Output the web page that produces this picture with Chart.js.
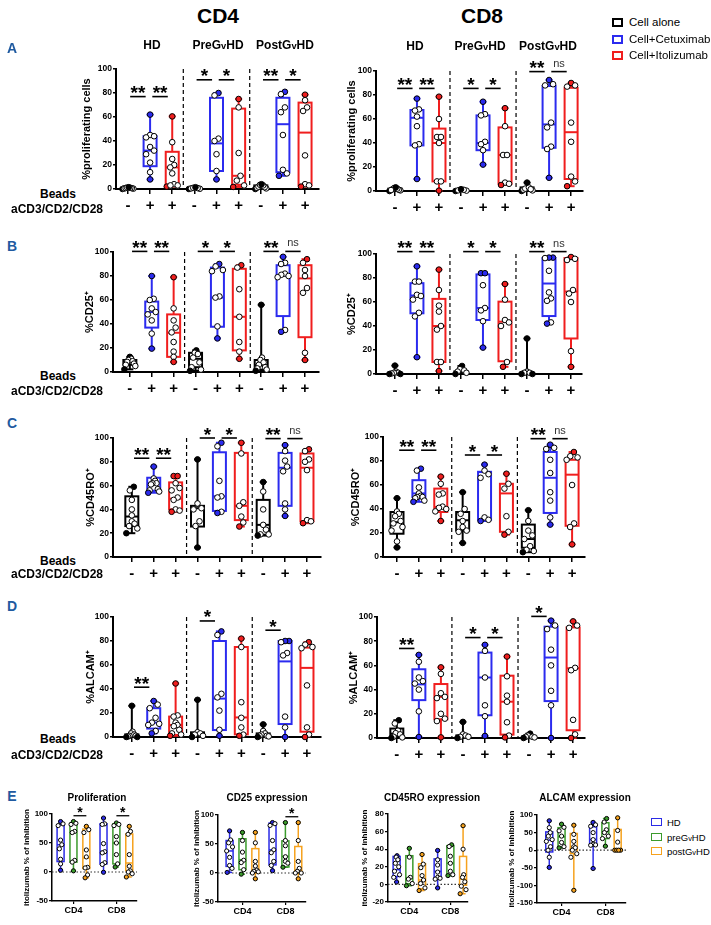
<!DOCTYPE html>
<html>
<head>
<meta charset="utf-8">
<script src="https://cdn.jsdelivr.net/npm/chart.js@4.4.1/dist/chart.umd.min.js"></script>
<style>
  body { margin: 0; width: 711px; height: 925px; position: relative; overflow: hidden; background: #fff;
         font-family: "Liberation Sans", Arial, Helvetica, sans-serif; color: #000; }
  canvas { position: absolute; }
  .t { position: absolute; transform: translate(-50%, -50%); white-space: nowrap; font-weight: bold; }
  .v { font-size: 0.78em; }
  .lg { position: absolute; transform: translateY(-50%); white-space: nowrap; }
  .sw { position: absolute; box-sizing: border-box; }
</style>
</head>
<body>
<script>
// ---- labels ----
const groupLabels = ['HD', 'PreG<span class="v">v</span>HD', 'PostG<span class="v">v</span>HD'];
const condLabels = ['Cell alone', 'Cell+Cetuximab', 'Cell+Itolizumab'];
const beadTicks = ['-', '+', '+', '-', '+', '+', '-', '+', '+'];
const cellLabels = ['CD4', 'CD8'];
const inhibLabels = ['HD', 'preG<span class="v">v</span>HD', 'postG<span class="v">v</span>HD'];

// ---- box stats: [min, q1, median, q3, max] per box; points per box ----
const prolifCD4Box = [[0, 0.3, 0.7, 1, 1.5], [8, 19, 32, 44, 62], [2, 3.5, 18, 31, 60.5],
  [0, 0.2, 0.5, 1, 1.5], [8, 15, 38, 76, 80], [1.7, 3.5, 11, 67, 75],
  [0, 0.5, 1.5, 3, 4], [11, 14, 54, 76, 81], [2, 3, 47, 72, 78.6]];
const prolifCD4Pts = [[0, 0.3, 0.5, 0.7, 0.8, 1, 1.2, 1.5], [62, 45, 44, 43, 35, 32, 29, 22, 14, 8],
  [60.5, 39, 25, 20, 18, 13, 4, 3, 2, 3], [0, 0.2, 0.5, 0.8, 1, 1.5], [80, 78, 42, 40, 29, 15, 8],
  [75, 68, 30, 11, 7, 3, 1.7], [0, 0.5, 1, 1.5, 2, 3, 3.5, 4], [81, 79, 68, 64, 45, 16, 13, 11],
  [78.6, 74, 68, 65, 28, 4, 3, 2]];
const prolifCD4Sig = [[1, 2, 77, '**'], [2, 3, 77, '**'], [4, 5, 91, '*'], [5, 6, 91, '*'], [7, 8, 91, '**'], [8, 9, 91, '*']];

const prolifCD8Box = [[0, 0.5, 1, 2, 3], [10, 38, 61, 67.5, 77], [0.3, 8, 40, 52, 78.6],
  [0, 0.2, 0.5, 1, 1.5], [22, 34, 40, 63, 74.4], [5, 6, 30, 53, 69],
  [0, 0.5, 1.5, 3, 7], [11, 36, 55.5, 87.5, 92.5], [4, 10, 49, 86, 90]];
const prolifCD8Pts = [[0, 0.5, 1, 1.5, 2, 2.5, 3, 0.8], [77, 68, 67, 62, 54, 39, 38, 10],
  [78.6, 60, 45, 45, 40, 8, 8, 0.3], [0, 0.3, 0.6, 1, 1.5], [74.4, 64, 63, 41, 39, 34, 22],
  [69, 54, 30, 30, 7, 6, 5], [0, 0.5, 1, 2, 3, 7, 1.5], [92.5, 89, 88, 57, 53, 37, 35, 11],
  [90, 88, 87, 57, 41, 12, 8, 4]];
const prolifCD8Sig = [[1, 2, 85.5, '**'], [2, 3, 85.5, '**'], [4, 5, 85.5, '*'], [5, 6, 85.5, '*'], [7, 8, 99.5, '**'], [8, 9, 99.5, 'ns']];

const cd25CD4Box = [[2.2, 6, 8.4, 10, 12.6], [19.5, 37, 50, 58.7, 80], [8.4, 12.6, 32.7, 48, 79],
  [1, 4, 11, 16, 18], [28, 37.7, 62, 87, 90], [11, 18, 46, 86, 89],
  [1, 2, 5.6, 10, 56], [33.5, 46.6, 80.4, 89, 96], [10, 29, 78, 89, 94]];
const cd25CD4Pts = [[12.6, 11, 10, 9, 8.4, 7, 6, 5, 2.2], [80, 61, 60, 53, 50, 48, 43, 32, 19.5],
  [79, 53, 43, 37, 33, 25, 17, 12.6, 8.4], [18, 16, 15, 12, 8, 4, 2, 1], [90, 88, 85, 84, 63, 62, 38, 28],
  [89, 87, 69, 46, 25, 17, 11], [56, 12, 10, 8, 6, 4, 3, 2, 1], [96, 91, 90, 82, 81, 80, 79, 35, 33.5],
  [94, 91, 85, 80, 70, 66, 16, 10]];
const cd25CD4Sig = [[1, 2, 100.5, '**'], [2, 3, 100.5, '**'], [4, 5, 100.5, '*'], [5, 6, 100.5, '*'], [7, 8, 100.5, '**'], [8, 9, 100.5, 'ns']];

const cd25CD8Box = [[0, 0, 0.5, 1, 7], [14, 50.6, 65.4, 75.7, 89.7], [2.5, 10, 40, 62.6, 87],
  [0, 0.3, 1.4, 2.2, 6.7], [22, 45, 55, 83, 84], [6, 10.6, 43.6, 60.3, 75],
  [0, 0, 0.5, 1, 29.6], [42, 48.3, 75.4, 96.6, 97], [6, 29.6, 68.7, 96.6, 97.5]];
const cd25CD8Pts = [[7, 2, 1, 1, 0.5, 0, 0], [89.7, 77, 77, 66, 65, 62, 51, 48, 14],
  [87, 70, 57, 52, 40, 37, 10, 10, 2.5], [6.7, 4, 3, 2, 1, 0], [84, 84, 74, 55, 53, 44, 22],
  [75, 62, 45, 43, 40, 10, 6], [29.6, 2, 1, 1, 0, 0], [97, 97, 96.6, 86, 68, 63, 61, 43, 42],
  [97.5, 96, 95, 70, 67, 60, 19, 6]];
const cd25CD8Sig = [[1, 2, 102, '**'], [2, 3, 102, '**'], [4, 5, 102, '*'], [5, 6, 102, '*'], [7, 8, 102, '**'], [8, 9, 102, 'ns']];

const cd45CD4Box = [[20, 26, 34, 51, 59], [54, 55.7, 62, 66.6, 76], [38, 40, 49, 62.7, 68],
  [8, 25.6, 41, 43, 82], [37, 38.7, 51, 88, 96], [25.6, 31, 43, 87.5, 96],
  [18, 18.7, 27, 48, 63], [34.5, 43, 75, 87.5, 94], [28.4, 30, 75, 87, 90.5]];
const cd45CD4Pts = [[59, 56, 48, 40, 35, 30, 28, 26, 24, 20], [76, 66, 64, 62, 62, 61, 57, 56, 55, 54],
  [68, 68, 62, 58, 56, 50, 48, 40, 39, 38], [82, 45, 41, 40, 30, 26, 8], [96, 93, 64, 51, 50, 38, 37],
  [96, 87, 46, 43, 34, 29, 25.6], [63, 55, 40, 27, 23, 19, 19, 18], [94, 89, 81, 76, 72, 45, 40, 34.5],
  [90.5, 89, 82, 80, 73, 31, 30, 28.4]];
const cd45CD4Sig = [[1, 2, 83, '**'], [2, 3, 83, '**'], [4, 5, 100, '*'], [5, 6, 100, '*'], [7, 8, 99.5, '**'], [8, 9, 99.5, 'ns']];

const cd45CD8Box = [[8, 19.4, 29, 37.5, 49], [46, 50, 53, 64, 73.6], [30, 37.5, 41.7, 57, 67],
  [11.7, 22, 30.6, 37.5, 54], [30, 31, 70.8, 71, 77], [18.6, 21, 53, 61, 69.4],
  [4, 7.7, 15, 27, 39], [27, 36.7, 66, 87.5, 93.6], [10.5, 26, 68.6, 81, 87.5]];
const cd45CD8Pts = [[49, 38, 36, 34, 30, 28, 25, 22, 13, 8], [73.6, 72, 58, 53, 51, 50, 50, 49, 47, 46],
  [67, 61, 53, 52, 42, 41, 40, 38, 30], [54, 40, 36, 30, 25, 22, 21, 11.7], [77, 72, 69, 66, 33, 31, 30],
  [69.4, 61, 57, 34, 21, 18.6], [39, 30, 22, 18, 15, 9, 6, 5, 4], [93.6, 91, 90, 81, 70, 54, 47, 33, 27],
  [87.5, 84, 83, 81, 60, 28, 25, 10.5]];
const cd45CD8Sig = [[1, 2, 89, '**'], [2, 3, 89, '**'], [4, 5, 85, '*'], [5, 6, 85, '*'], [7, 8, 98.6, '**'], [8, 9, 98.6, 'ns']];

const alcamCD4Box = [[0, 0.3, 1.1, 2.2, 26], [3, 7, 12, 24, 30], [1, 1.7, 10, 17, 44.6],
  [0, 0.8, 2.2, 3.9, 31], [1, 5.8, 32, 80, 88], [1, 2.2, 16.3, 75, 82],
  [0, 0.3, 1.1, 3, 10.5], [0, 10.8, 63, 80, 80], [0, 4.4, 57.6, 74.5, 79]];
const alcamCD4Pts = [[26, 4.4, 3, 2, 1, 1, 0.5, 0, 0], [30, 27, 24, 16, 12, 11, 10, 5, 3],
  [44.6, 18, 17, 12, 10, 9, 6, 3, 2, 1], [31, 4, 3, 2, 1, 0], [88, 85, 36, 33, 22, 6, 1],
  [82, 75, 29, 16, 8, 2, 1], [10.5, 5, 3, 2, 1, 1, 0.5, 0], [80, 80, 79, 70, 68, 17, 8, 0],
  [79, 77, 75, 74, 43, 8, 2, 0]];
const alcamCD4Sig = [[1, 2, 41.5, '**'], [4, 5, 96.7, '*'], [7, 8, 89, '*']];

const alcamCD8Box = [[0, 0.8, 3.6, 7.8, 14.7], [0.8, 31.3, 44.3, 56.8, 68.7], [0.5, 15.5, 34, 44.6, 58.4],
  [0, 0.5, 1.4, 2.2, 13.3], [1.7, 18.8, 50, 70.6, 77], [0.5, 2.8, 30, 51.5, 67.3],
  [0, 0.3, 0.8, 1.4, 3.6], [0, 30.5, 66.5, 92, 97], [0, 6.4, 57.6, 91.4, 96.4]];
const alcamCD8Pts = [[14.7, 12, 6, 4, 3, 1, 0.5, 0], [68.7, 63, 50, 47, 45, 40, 22, 0.8],
  [58.4, 53, 37, 34, 33, 20, 16, 14, 0.5], [13.3, 3, 2, 1, 1, 0], [77, 72, 50, 27, 18, 1.7],
  [67.3, 51, 35, 30, 13, 2, 0.5], [3.6, 2, 1, 1, 0.5, 0], [97, 93, 90, 73, 60, 39, 27, 0],
  [96.4, 93, 91, 58, 56, 15, 3, 0]];
const alcamCD8Sig = [[1, 2, 74, '**'], [4, 5, 83, '*'], [5, 6, 83, '*'], [7, 8, 100.5, '*']];

// panel E: order CD4 HD/pre/post, CD8 HD/pre/post
const prolifInhBox = [[3, 18, 47, 81.6, 87], [2, 17, 69, 84, 87], [-10, 6, 24, 74, 78.7],
  [-0.5, 14, 35.6, 83, 93], [8.6, 14, 50, 83, 84.5], [-8.6, 2.3, 15.5, 65.5, 78.7]];
const prolifInhPts = [[87, 83, 80, 55, 47, 40, 22, 14, 3], [87, 84, 82, 70, 68, 20, 17, 2],
  [78.7, 73, 68, 38, 26, 8, 7, -5, -10], [93, 83, 82, 49, 35, 33, 16, 13, -0.5],
  [84.5, 82, 80, 61, 50, 30, 14, 8.6], [78.7, 70, 65, 30, 10, 2, 0, -3, -8.6]];
const prolifInhSig = [[2, 3, 97, '*'], [5, 6, 97, '*']];

const cd25InhBox = [[1, 11.4, 38, 56, 72.6], [-2, 5.7, 23, 59, 70], [-10, 0, 4.6, 42, 70],
  [4, 14, 40, 86, 87], [10, 10.3, 28.6, 55.4, 87], [-10, 0, 3, 45.7, 87]];
const cd25InhPts = [[72.6, 57, 52, 45, 38, 27, 13, 8, 1], [70, 56, 36, 22, 18, 5.7, -2],
  [70, 52, 20, 12, 5, 3, 2, 0, -10], [87, 85, 82, 56, 40, 35, 20, 13, 4],
  [87, 56, 47, 28, 20, 17, 10], [87, 56, 20, 8, 3, 0, 0, -10]];
const cd25InhSig = [[5, 6, 97, '*']];

const cd45InhBox = [[2.7, 9, 16.7, 31.8, 32.6], [-1.5, 0.8, 7, 32.6, 41], [-7, -5, 5, 23.5, 34],
  [-4, 7, 14.8, 29, 38.6], [10, 10, 24, 44, 45], [-10.6, -1, 6, 31.8, 66.7]];
const cd45InhPts = [[32.6, 31, 28, 24, 20, 15, 11, 8, 2.7], [41, 31, 8, 6, 1, -1.5],
  [34, 23, 19, 10, 5, 1, -4, -7], [38.6, 28, 22, 14, 8, 7, 6, -4],
  [45, 43, 32, 24, 15, 11, 10], [66.7, 40, 11, 8, 3, -2, -6, -10.6]];

const alcamInhBox = [[-49, -5, 28.5, 52, 83.6], [6.6, 9.5, 38, 64, 74], [-114, -9.5, 9.5, 47.5, 71],
  [-52, 14, 30.4, 66.5, 79], [11.4, 33, 52, 78, 90], [0, 0, 0, 59, 92]];
const alcamInhPts = [[83.6, 64, 50, 40, 30, 25, 10, 0, -20, -49], [74, 65, 55, 40, 22, 10, 6.6],
  [71, 45, 25, 10, 7, 0, -10, -20, -114], [79, 72, 68, 50, 30, 17, 15, 14, -52],
  [90, 80, 58, 50, 40, 33, 11.4], [92, 56, 23, 0, 0, 0, 0]];

// ---- styling ----
const FONT = '"Liberation Sans", Arial, Helvetica, sans-serif';
const condColors = ['#000000', '#2b2bef', '#f01e1e'];
const inhibColors = ['#2b2be6', '#3b9b2c', '#f6a21d'];
Chart.defaults.font.family = FONT;
Chart.defaults.color = '#000';

// horizontal spread for points that sit close together (zigzag left/right)
function spread(vals, thr, step, maxW) {
  const order = vals.map((v, i) => i).sort((a, b) => vals[a] - vals[b]);
  const off = vals.map(() => 0);
  let run = [];
  const flush = () => {
    const n = run.length;
    const s = n > 1 ? Math.min(step, maxW / (n - 1)) : 0;
    run.forEach((idx, k) => {
      const slot = k % 2 === 0 ? k / 2 : n - 1 - (k - 1) / 2;
      off[idx] = (slot - (n - 1) / 2) * s;
    });
    run = [];
  };
  order.forEach(i => {
    if (run.length && vals[i] - vals[run[run.length - 1]] > thr) flush();
    run.push(i);
  });
  flush();
  return off;
}

function boxLayer(cfg) {
  const line = (ctx, x1, y1, x2, y2) => { ctx.beginPath(); ctx.moveTo(x1, y1); ctx.lineTo(x2, y2); ctx.stroke(); };
  return {
    id: 'boxLayer',
    beforeDatasetsDraw(chart) {
      const { ctx, chartArea: a, scales: { x, y } } = chart;
      ctx.save();
      ctx.strokeStyle = '#000';
      ctx.lineWidth = 1.2;
      ctx.setLineDash([4, 3]);
      cfg.separators.forEach(v => { const px = x.getPixelForValue(v); line(ctx, px, a.top, px, a.bottom); });
      if (cfg.zeroLine) {
        ctx.setLineDash([1.5, 2]);
        ctx.strokeStyle = '#333';
        const py = y.getPixelForValue(0);
        line(ctx, a.left, py, a.right, py);
      }
      ctx.setLineDash([]);
      cfg.stats.forEach((s, i) => {
        const cx = x.getPixelForValue(cfg.xs[i]);
        const [mn, q1, md, q3, mx] = s.map(v => y.getPixelForValue(v));
        ctx.strokeStyle = cfg.colors[i];
        ctx.lineWidth = cfg.lw;
        line(ctx, cx, mx, cx, q3);
        line(ctx, cx, q1, cx, mn);
        line(ctx, cx - cfg.cap, mx, cx + cfg.cap, mx);
        line(ctx, cx - cfg.cap, mn, cx + cfg.cap, mn);
        ctx.strokeRect(cx - cfg.bw / 2, q3, cfg.bw, q1 - q3);
        line(ctx, cx - cfg.bw / 2, md, cx + cfg.bw / 2, md);
      });
      ctx.restore();
    },
    afterDatasetsDraw(chart) {
      const { ctx, scales: { x, y } } = chart;
      ctx.save();
      cfg.sig.forEach(([a, b, v, lab]) => {
        const x1 = x.getPixelForValue(cfg.xs[a - 1] + cfg.inset[0]);
        const x2 = x.getPixelForValue(cfg.xs[b - 1] - cfg.inset[1]);
        const py = y.getPixelForValue(v);
        ctx.strokeStyle = '#000';
        ctx.lineWidth = cfg.sigLw;
        line(ctx, x1, py, x2, py);
        const ns = lab === 'ns';
        ctx.font = ns ? `${cfg.nsSize}px ${FONT}` : `bold ${cfg.starSize}px ${FONT}`;
        ctx.fillStyle = ns ? '#333' : '#000';
        ctx.textAlign = 'center';
        ctx.textBaseline = 'alphabetic';
        ctx.fillText(lab, (x1 + x2) / 2, ns ? py - 5 : py + cfg.starDrop);
      });
      ctx.restore();
    }
  };
}

function makeCanvas(left, top, w, h) {
  const cv = document.createElement('canvas');
  cv.width = w; cv.height = h;
  cv.style.left = left + 'px'; cv.style.top = top + 'px';
  cv.style.width = w + 'px'; cv.style.height = h + 'px';
  document.body.appendChild(cv);
  return cv;
}

function pointSets(stats, pts, xs, colors, thr, step, maxW, r) {
  return stats.map((s, i) => {
    const vals = pts[i];
    const off = spread(vals, thr, step, maxW);
    return {
      data: vals.map((v, k) => ({ x: xs[i] + off[k], y: v })),
      pointRadius: r,
      pointBorderWidth: 1,
      pointBorderColor: '#000',
      pointBackgroundColor: vals.map(v => (v === s[0] || v === s[4]) ? colors[i] : '#fff'),
      clip: false
    };
  });
}

function mainPanel(L, stats, pts, sig, yTitle) {
  const padTop = 30, xh = 28, padR = 4;
  const w = L.r - L.l + L.yw + padR, h = L.b - L.t + padTop + xh;
  const cv = makeCanvas(L.l - L.yw, L.t - padTop, w, h);
  const xs = beadTicks.map((_, i) => i + 1);
  const colors = xs.map((_, i) => condColors[i % 3]);
  const pxX = (L.r - L.l) / (L.xmax - L.xmin), pxY = (L.b - L.t) / 100;
  new Chart(cv, {
    type: 'scatter',
    data: { datasets: pointSets(stats, pts, xs, colors, 5 / pxY, 4 / pxX, 11 / pxX, 2.8) },
    options: {
      responsive: false, animation: false, devicePixelRatio: 1, events: [],
      layout: { padding: { top: padTop, right: padR, left: 0, bottom: 0 } },
      plugins: { legend: { display: false }, tooltip: { enabled: false } },
      scales: {
        x: {
          type: 'linear', min: L.xmin, max: L.xmax,
          afterBuildTicks: s => { s.ticks = xs.map(v => ({ value: v })); },
          afterFit: s => { s.height = xh; s.paddingLeft = 0; s.paddingRight = 0; },
          ticks: { callback: v => beadTicks[v - 1], font: { size: 15, weight: 'bold' }, color: '#000', padding: 3, autoSkip: false, maxRotation: 0 },
          grid: { drawOnChartArea: false, tickLength: 5, color: '#000', lineWidth: 1.5 },
          border: { color: '#000', width: 2 }
        },
        y: {
          min: 0, max: 100,
          afterFit: s => { s.width = L.yw; s.paddingTop = 0; s.paddingBottom = 0; },
          ticks: { stepSize: 20, font: { size: 8.5, weight: 'bold' }, color: '#000', padding: 1 },
          grid: { drawOnChartArea: false, tickLength: 3, color: '#000', lineWidth: 1.5 },
          border: { color: '#000', width: 2 },
          title: { display: true, text: yTitle, font: { size: 11, weight: 'bold' }, color: '#000', padding: 0 }
        }
      }
    },
    plugins: [boxLayer({
      stats, xs, colors, sig, separators: [3.5, 6.5], zeroLine: false,
      bw: 13, cap: 3.5, lw: 2, sigLw: 1.6, inset: [0.1, 0.2], starSize: 19, starDrop: 2.5, nsSize: 11
    })]
  });
}

function inhibPanel(L, stats, pts, sig) {
  const padTop = 18, xh = 16, padR = 3;
  const w = L.r - L.l + L.yw + padR, h = L.b - L.t + padTop + xh;
  const cv = makeCanvas(L.l - L.yw, L.t - padTop, w, h);
  const xs = stats.map((_, i) => Math.floor(i / 3) + 1 + (i % 3 - 1) * L.off);
  const colors = stats.map((_, i) => inhibColors[i % 3]);
  const pxX = (L.r - L.l) / (L.xmax - L.xmin), pxY = (L.b - L.t) / (L.ymax - L.ymin);
  new Chart(cv, {
    type: 'scatter',
    data: { datasets: pointSets(stats, pts, xs, colors, 4.5 / pxY, 2.5 / pxX, 6 / pxX, 2.1) },
    options: {
      responsive: false, animation: false, devicePixelRatio: 1, events: [],
      layout: { padding: { top: padTop, right: padR, left: 0, bottom: 0 } },
      plugins: { legend: { display: false }, tooltip: { enabled: false } },
      scales: {
        x: {
          type: 'linear', min: L.xmin, max: L.xmax,
          afterBuildTicks: s => { s.ticks = cellLabels.map((_, i) => ({ value: i + 1 })); },
          afterFit: s => { s.height = xh; s.paddingLeft = 0; s.paddingRight = 0; },
          ticks: { callback: v => cellLabels[v - 1], font: { size: 9, weight: 'bold' }, color: '#000', padding: 1, autoSkip: false, maxRotation: 0 },
          grid: { drawOnChartArea: false, tickLength: 3, color: '#000', lineWidth: 1.2 },
          border: { color: '#000', width: 1.5 }
        },
        y: {
          min: L.ymin, max: L.ymax,
          afterFit: s => { s.width = L.yw; s.paddingTop = 0; s.paddingBottom = 0; },
          ticks: { stepSize: L.step, font: { size: 8, weight: 'bold' }, color: '#000', padding: 1 },
          grid: { drawOnChartArea: false, tickLength: 3, color: '#000', lineWidth: 1.2 },
          border: { color: '#000', width: 1.5 },
          title: { display: true, text: 'itolizumab % of inhibition', font: { size: 8, weight: 'bold' }, color: '#000', padding: 0 }
        }
      }
    },
    plugins: [boxLayer({
      stats, xs, colors, sig, separators: [], zeroLine: true,
      bw: 7, cap: 2.5, lw: 1.5, sigLw: 1.3, inset: [0, 0], starSize: 14, starDrop: 1.5, nsSize: 9
    })]
  });
}

// ---- layout (pixel geometry of each plot) ----
const lay = {
  A4: { l: 116, t: 69, r: 320, b: 189, xmin: 0.46, xmax: 9.63, yw: 36 },
  A8: { l: 376, t: 71, r: 584, b: 191, xmin: 0.14, xmax: 9.54, yw: 31 },
  B4: { l: 113, t: 252, r: 320, b: 372, xmin: 0.23, xmax: 9.64, yw: 30 },
  B8: { l: 376, t: 254, r: 583, b: 374, xmin: 0.14, xmax: 9.5, yw: 31 },
  C4: { l: 113, t: 438, r: 322, b: 557, xmin: 0.14, xmax: 9.64, yw: 29 },
  C8: { l: 383, t: 437, r: 586, b: 557, xmin: 0.36, xmax: 9.59, yw: 34 },
  D4: { l: 113, t: 617, r: 322, b: 737, xmin: 0.14, xmax: 9.64, yw: 29 },
  D8: { l: 377, t: 617, r: 586, b: 738, xmin: 0.1, xmax: 9.54, yw: 30 },
  EP: { l: 52, t: 814, r: 139, b: 901, ymin: -50, ymax: 100, step: 50, xmin: 0.5, xmax: 2.48, yw: 30, off: 0.3 },
  E25: { l: 218, t: 815, r: 308, b: 902, ymin: -50, ymax: 100, step: 50, xmin: 0.43, xmax: 2.48, yw: 26, off: 0.3 },
  E45: { l: 388, t: 814, r: 470, b: 902, ymin: -20, ymax: 80, step: 20, xmin: 0.48, xmax: 2.43, yw: 28, off: 0.31 },
  EA: { l: 537, t: 815, r: 628, b: 903, ymin: -150, ymax: 100, step: 50, xmin: 0.44, xmax: 2.47, yw: 30, off: 0.28 }
};

mainPanel(lay.A4, prolifCD4Box, prolifCD4Pts, prolifCD4Sig, '%proliferating cells');
mainPanel(lay.A8, prolifCD8Box, prolifCD8Pts, prolifCD8Sig, '%proliferating cells');
mainPanel(lay.B4, cd25CD4Box, cd25CD4Pts, cd25CD4Sig, '%CD25⁺');
mainPanel(lay.B8, cd25CD8Box, cd25CD8Pts, cd25CD8Sig, '%CD25⁺');
mainPanel(lay.C4, cd45CD4Box, cd45CD4Pts, cd45CD4Sig, '%CD45RO⁺');
mainPanel(lay.C8, cd45CD8Box, cd45CD8Pts, cd45CD8Sig, '%CD45RO⁺');
mainPanel(lay.D4, alcamCD4Box, alcamCD4Pts, alcamCD4Sig, '%ALCAM⁺');
mainPanel(lay.D8, alcamCD8Box, alcamCD8Pts, alcamCD8Sig, '%ALCAM⁺');
inhibPanel(lay.EP, prolifInhBox, prolifInhPts, prolifInhSig);
inhibPanel(lay.E25, cd25InhBox, cd25InhPts, cd25InhSig);
inhibPanel(lay.E45, cd45InhBox, cd45InhPts, []);
inhibPanel(lay.EA, alcamInhBox, alcamInhPts, []);

// ---- text ----
function txt(html, x, y, size, extra) {
  const d = document.createElement('div');
  d.className = 't';
  d.innerHTML = html;
  d.style.left = x + 'px';
  d.style.top = y + 'px';
  d.style.fontSize = size + 'px';
  Object.assign(d.style, extra || {});
  document.body.appendChild(d);
}

txt(cellLabels[0], 218, 16, 21);
txt(cellLabels[1], 482, 16, 21);
[152, 218, 285].forEach((x, i) => txt(groupLabels[i], x, 45, 12));
[415, 480, 548].forEach((x, i) => txt(groupLabels[i], x, 46, 12));

const panelBlue = '#1f5aa0';
[['A', 48], ['B', 246], ['C', 423], ['D', 606], ['E', 796]].forEach(([s, y]) => txt(s, 12, y, 14, { color: panelBlue }));

[[194, 209], [376, 391], [561, 574], [739, 755]].forEach(([y1, y2]) => {
  txt('Beads', 58, y1, 12);
  txt('aCD3/CD2/CD28', 57, y2, 12);
});

txt('Proliferation', 97, 797, 10);
txt('CD25 expression', 267, 797, 10);
txt('CD45RO expression', 432, 797, 10);
txt('ALCAM expression', 585, 797, 10);

function legendItem(html, color, bx, ty, bw, bh, border, tx, size) {
  const sw = document.createElement('div');
  sw.className = 'sw';
  Object.assign(sw.style, { left: bx + 'px', top: (ty - bh / 2) + 'px', width: bw + 'px', height: bh + 'px', border: border + 'px solid ' + color });
  document.body.appendChild(sw);
  const t = document.createElement('div');
  t.className = 'lg';
  t.innerHTML = html;
  Object.assign(t.style, { left: tx + 'px', top: ty + 'px', fontSize: size + 'px' });
  document.body.appendChild(t);
}
[22, 39, 55].forEach((y, i) => legendItem(condLabels[i], condColors[i], 612, y, 11, 9, 2, 629, 11.5));
[822, 837, 851].forEach((y, i) => legendItem(inhibLabels[i], inhibColors[i], 651, y, 11, 8, 1.6, 667, 9.5));
</script>
</body>
</html>
